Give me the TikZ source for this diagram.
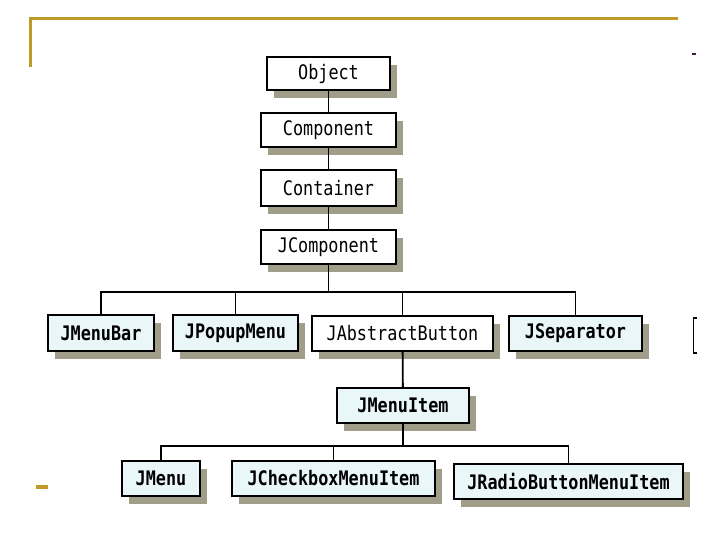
\documentclass[tikz,border=0pt]{standalone}
\usepackage{fontspec}
\setmonofont{DejaVu Sans Mono}
\usetikzlibrary{shadows}
\definecolor{gold}{RGB}{192,154,40}
\definecolor{shadowc}{RGB}{160,158,136}
\definecolor{tint}{RGB}{234,247,249}
\definecolor{markc}{RGB}{70,30,70}
\newcommand\lbl[1]{\scalebox{0.84}[1]{#1}}
\tikzset{
  cls/.style={draw=black, line width=2pt, inner sep=0pt, font=\ttfamily\fontsize{20}{20}\selectfont,
    drop shadow={shadow xshift=7pt, shadow yshift=-8pt, fill=shadowc, opacity=1}},
  plain/.style={cls, fill=white},
  tinted/.style={cls, fill=tint, font=\ttfamily\bfseries\fontsize{20}{20}\selectfont},
  link/.style={draw=black, line width=1.2pt},
  goldline/.style={draw=gold, line width=3pt}
}
\begin{document}
\begin{tikzpicture}[x=1pt,y=-1pt]
\useasboundingbox (0,0) rectangle (720,540);
% decoration
\draw[goldline] (30,67) -- (30,18.5) -- (678,18.5);
\fill[gold] (36,485) rectangle (48,488.5);
\fill[markc] (692,53) rectangle (696,55.5);
\draw[black, line width=1.5pt] (697,318) -- (693.5,318) -- (693.5,353) -- (697,353);
% nodes
\node[plain, minimum width=123pt, minimum height=33pt] (object) at (328.5,73.5) {\lbl{Object}};
\node[plain, minimum width=135pt, minimum height=34pt] (component) at (328.5,130) {\lbl{Component}};
\node[plain, minimum width=135pt, minimum height=36pt] (container) at (328.5,188) {\lbl{Container}};
\node[plain, minimum width=135pt, minimum height=34pt] (jcomponent) at (328.5,247) {\lbl{JComponent}};
\node[tinted, minimum width=106pt, minimum height=36pt] (jmenubar) at (101,333) {\lbl{JMenuBar}};
\node[tinted, minimum width=125pt, minimum height=36pt] (jpopupmenu) at (235.5,333) {\lbl{JPopupMenu}};
\node[plain, minimum width=181pt, minimum height=35pt] (jabstractbutton) at (402.5,333.5) {\lbl{JAbstractButton}};
\node[tinted, minimum width=133pt, minimum height=35pt] (jseparator) at (575.5,333.5) {\lbl{JSeparator}};
\node[tinted, minimum width=132pt, minimum height=35pt] (jmenuitem) at (403,405.5) {\lbl{JMenuItem}};
\node[tinted, minimum width=78pt, minimum height=35pt] (jmenu) at (161,478.5) {\lbl{JMenu}};
\node[tinted, minimum width=203pt, minimum height=35pt] (jcheckbox) at (333.5,478.5) {\lbl{JCheckboxMenuItem}};
\node[tinted, minimum width=229pt, minimum height=35pt] (jradio) at (568.5,481.5) {\lbl{JRadioButtonMenuItem}};
% connectors
\coordinate (busA) at (328.5,292);
\coordinate (busB) at (403,446);
\draw[link] (object) -- (component);
\draw[link] (component) -- (container);
\draw[link] (container) -- (jcomponent);
\draw[link] (jcomponent.south) -- (busA);
\draw[link] (busA) -| (jmenubar.north);
\draw[link] (busA) -| (jpopupmenu.north);
\draw[link] (busA) -| (jabstractbutton.north);
\draw[link] (busA) -| (jseparator.north);
\draw[link, line width=1.8pt] (jabstractbutton) -- (jmenuitem);
\draw[link, line width=1.8pt] (jmenuitem.south) -- (busB);
\draw[link] (busB) -| (jmenu.north);
\draw[link] (busB) -| (jcheckbox.north);
\draw[link] (busB) -| (jradio.north);
\end{tikzpicture}
\end{document}
